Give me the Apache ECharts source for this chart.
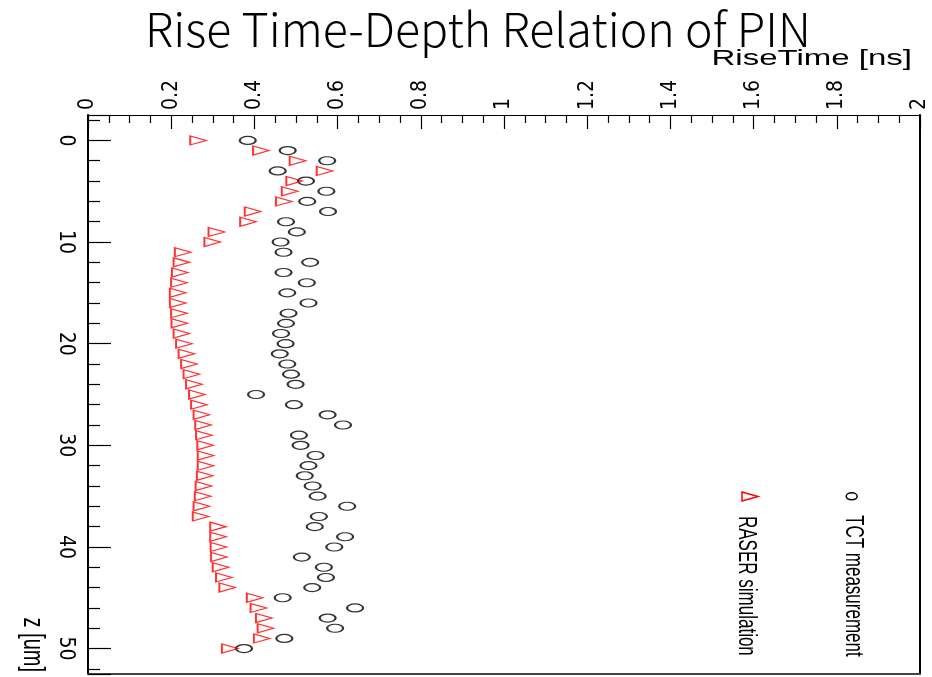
<!DOCTYPE html>
<html>
<head>
<meta charset="utf-8">
<script src="https://cdn.jsdelivr.net/npm/echarts@6/dist/echarts.min.js"></script>
<style>
html,body{margin:0;padding:0;background:#fff;}
#chart{width:932px;height:677px;}
</style>
</head>
<body>
<div id="chart"></div>
<script>
// depth positions z [um]
const depth = [0,1,2,3,4,5,6,7,8,9,10,11,12,13,14,15,16,17,18,19,20,21,22,23,24,25,26,27,28,29,30,31,32,33,34,35,36,37,38,39,40,41,42,43,44,45,46,47,48,49,50];
// TCT measurement rise time [ns]
const tctRise = [0.384,0.480,0.575,0.456,0.524,0.573,0.527,0.577,0.476,0.502,0.463,0.470,0.534,0.470,0.526,0.479,0.530,0.482,0.476,0.464,0.475,0.461,0.479,0.488,0.499,0.404,0.495,0.576,0.613,0.507,0.511,0.547,0.530,0.521,0.540,0.552,0.623,0.555,0.545,0.618,0.592,0.514,0.567,0.572,0.539,0.468,0.642,0.576,0.594,0.472,0.375];
// RASER simulation rise time [ns]
const raserRise = [0.265,0.416,0.504,0.569,0.496,0.485,0.471,0.396,0.385,0.309,0.299,0.228,0.225,0.221,0.219,0.216,0.216,0.219,0.220,0.225,0.231,0.237,0.243,0.249,0.255,0.262,0.267,0.273,0.277,0.279,0.282,0.283,0.283,0.281,0.278,0.276,0.273,0.271,0.313,0.313,0.314,0.315,0.319,0.327,0.335,0.401,0.410,0.423,0.427,0.418,0.341];
const seriesNames = ['TCT measurement','RASER simulation'];
const titleText = 'Rise Time-Depth Relation of PIN';
const xAxisTitle = 'RiseTime [ns]';
const yAxisTitle = 'z [um]';

const labelFont = "'Liberation Sans Narrow','Arial Narrow','DejaVu Sans Condensed',sans-serif";
const ellipsePath = 'path://M0,5A5,5,0,1,1,10,5A5,5,0,1,1,0,5Z';
const triPath = 'path://M0,0L10,5L0,10Z';

const chart = echarts.init(document.getElementById('chart'), null, {renderer:'canvas'});

function stretchedText(x, y, text, size, align, rotate){
  return {type:'group', x:x, y:y, scaleX:1.5, silent:true, children:[{
    type:'text', rotation: rotate ? -Math.PI/2 : 0,
    style:{text:text, x:0, y:0, fill:'#000', font: size+"px 'Liberation Sans', Arial, sans-serif", align:align, verticalAlign:'middle'}
  }]};
}

const option = {
  animation:false,
  backgroundColor:'#fff',
  title:{text:titleText, left:140, top:1, textStyle:{fontFamily:"'Noto Sans CJK SC','Noto Sans',sans-serif", fontWeight:300, fontSize:46.5, color:'#000'}},
  grid:{left:88, top:115, width:832, height:560, containLabel:false},
  xAxis:[{
    type:'value', position:'top', min:0, max:2, interval:0.2,
    axisLine:{show:true, onZero:false, lineStyle:{color:'#000', width:1}},
    axisTick:{show:true, inside:true, length:14, lineStyle:{color:'#000', width:1.2}},
    minorTick:{show:true, splitNumber:4, length:8, lineStyle:{color:'#000', width:1.2}},
    splitLine:{show:false},
    axisLabel:{rotate:-90, margin:5, color:'#000', fontSize:21, fontFamily:labelFont}
  },{
    type:'value', position:'bottom', min:0, max:2,
    axisLine:{show:true, onZero:false, lineStyle:{color:'#444', width:2}},
    axisTick:{show:false}, axisLabel:{show:false}, splitLine:{show:false}
  }],
  yAxis:[{
    type:'value', inverse:true, min:-2.5, max:52.5, splitNumber:5,
    axisLine:{show:true, onZero:false, lineStyle:{color:'#000', width:2}},
    axisTick:{show:true, inside:true, length:23, lineStyle:{color:'#000', width:1.2}},
    minorTick:{show:true, splitNumber:5, length:12, lineStyle:{color:'#000', width:1.2}},
    splitLine:{show:false},
    axisLabel:{rotate:-90, margin:12, color:'#000', fontSize:21, fontFamily:labelFont,
      formatter:function(v){ return (Math.abs(v % 10) < 1e-9) ? String(v) : ''; }}
  },{
    type:'value', position:'right', inverse:true, min:-2.5, max:52.5,
    axisLine:{show:true, onZero:false, lineStyle:{color:'#000', width:2}},
    axisTick:{show:false}, axisLabel:{show:false}, splitLine:{show:false}
  }],
  series:[{
    name:seriesNames[0], type:'scatter', xAxisIndex:0, yAxisIndex:0,
    symbol:ellipsePath, symbolSize:[16,8],
    itemStyle:{color:'rgba(0,0,0,0)', borderColor:'#000', borderWidth:1.6},
    data: depth.map((z,i)=>[tctRise[i], z])
  },{
    name:seriesNames[1], type:'scatter', xAxisIndex:0, yAxisIndex:0,
    symbol:triPath, symbolSize:[16,9],
    itemStyle:{color:'rgba(0,0,0,0)', borderColor:'#ff0000', borderWidth:1.5},
    data: depth.map((z,i)=>[raserRise[i], z])
  }],
  graphic:[
    stretchedText(912, 59, xAxisTitle, 22, 'right', false),
    stretchedText(32, 672, yAxisTitle, 20, 'right', true),
    {type:'ellipse', shape:{cx:851.7, cy:496.3, rx:5.5, ry:3.5}, style:{fill:'none', stroke:'#000', lineWidth:1.5}, silent:true},
    stretchedText(853.5, 515, seriesNames[0], 17, 'left', true),
    {type:'polygon', shape:{points:[[742,492],[758,496.5],[742,501]]}, style:{fill:'none', stroke:'#ff0000', lineWidth:1.5}, silent:true},
    stretchedText(746, 516, seriesNames[1], 17, 'left', true)
  ]
};
chart.setOption(option);
</script>
</body>
</html>
